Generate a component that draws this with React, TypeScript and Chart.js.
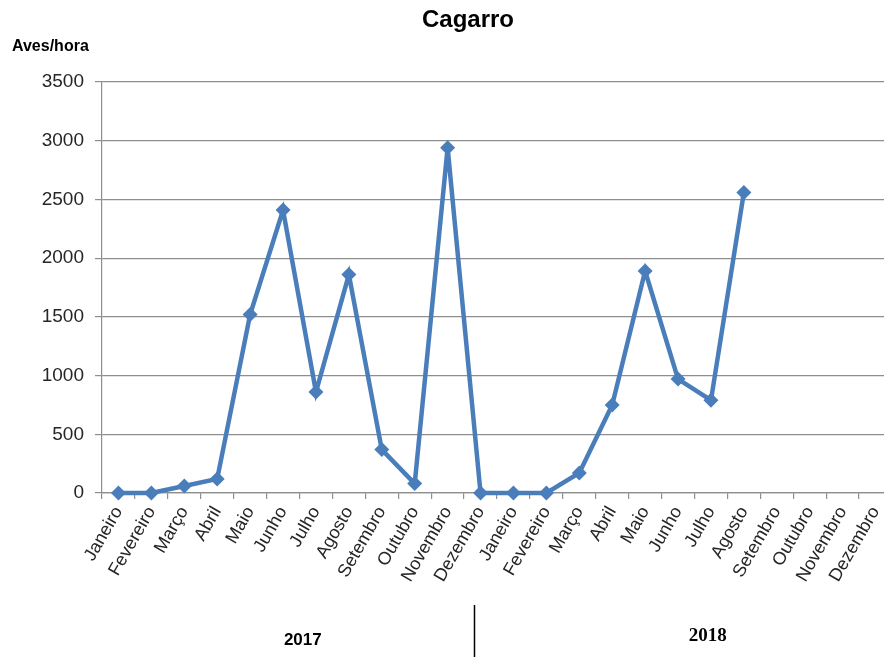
import React, { useEffect, useRef } from "react";
import { Chart, registerables } from "chart.js";

Chart.register(...registerables);

// Month names used on the category axis (repeated once per year)
const months = [
  "Janeiro", "Fevereiro", "Março", "Abril", "Maio", "Junho",
  "Julho", "Agosto", "Setembro", "Outubro", "Novembro", "Dezembro",
];
const years = ["2017", "2018"];

// Birds per hour, monthly
const values2017 = [0, 0, 60, 120, 1520, 2410, 860, 1860, 370, 80, 2940, 0];
const values2018 = [0, 0, 170, 750, 1890, 970, 790, 2560, null, null, null, null];

const yTicks = [0, 500, 1000, 1500, 2000, 2500, 3000, 3500];

const chartTitle = "Cagarro";
const unitLabel = "Aves/hora";

const FONT = "'Liberation Sans', Arial, sans-serif";
const BLUE = "#4a7ebb";
const GRID = "#8e8e8e";

// Draws the title, the unit label and the year grouping under the month labels
const annotations = {
  id: "annotations",
  afterDraw(chart: any) {
    const { ctx } = chart;
    const x = chart.scales.x;
    ctx.save();
    ctx.fillStyle = "#000";
    ctx.textBaseline = "middle";

    ctx.font = `bold 24px ${FONT}`;
    ctx.textAlign = "center";
    ctx.fillText(chartTitle, 468, 20);

    ctx.font = `bold 16px ${FONT}`;
    ctx.textAlign = "left";
    ctx.fillText(unitLabel, 12, 47);

    ctx.textAlign = "center";
    ctx.font = `bold 17px ${FONT}`;
    ctx.fillText(years[0], x.getPixelForValue(5.6), 640);
    ctx.font = `bold 19px 'Liberation Serif', 'Times New Roman', serif`;
    ctx.fillText(years[1], x.getPixelForValue(17.9), 636);

    const sx = Math.round(x.getPixelForValue(10.8)) + 0.5;
    ctx.strokeStyle = "#000";
    ctx.lineWidth = 1.5;
    ctx.beginPath();
    ctx.moveTo(sx, 605);
    ctx.lineTo(sx, chart.height);
    ctx.stroke();
    ctx.restore();
  },
};

export default function App() {
  const canvasRef = useRef<HTMLCanvasElement | null>(null);

  useEffect(() => {
    const canvas = canvasRef.current;
    if (!canvas) return;
    const chart = new Chart(canvas, {
      type: "line",
      data: {
        labels: [...months, ...months],
        datasets: [
          {
            data: [...values2017, ...values2018],
            borderColor: BLUE,
            backgroundColor: BLUE,
            borderWidth: 4.5,
            pointStyle: "rectRot",
            pointRadius: 7.5,
            pointBorderWidth: 0,
            pointBackgroundColor: BLUE,
            tension: 0,
            spanGaps: false,
            clip: false,
          },
        ],
      },
      options: {
        responsive: false,
        animation: false,
        layout: { padding: { left: 40, right: 8, top: 82, bottom: 74 } },
        plugins: {
          legend: { display: false },
          title: { display: false },
          tooltip: { enabled: false },
        },
        scales: {
          x: {
            offset: true,
            grid: {
              offset: true,
              drawOnChartArea: false,
              drawTicks: true,
              tickLength: 6,
              color: GRID,
              lineWidth: 1.2,
            },
            border: { color: GRID, width: 1.2 },
            ticks: {
              autoSkip: false,
              minRotation: 60,
              maxRotation: 60,
              padding: 4,
              color: "#262626",
              font: { family: FONT, size: 18 },
            },
            afterFit(scale: any) {
              scale.height = 90;
            },
          },
          y: {
            min: 0,
            max: 3500,
            afterBuildTicks(scale: any) {
              scale.ticks = yTicks.map((v) => ({ value: v }));
            },
            grid: {
              color: GRID,
              lineWidth: 1.2,
              drawTicks: true,
              tickLength: 7,
            },
            border: { color: GRID, width: 1.2 },
            ticks: {
              padding: 11,
              color: "#262626",
              font: { family: FONT, size: 19 },
              callback: (v: any) => String(v),
            },
            afterFit(scale: any) {
              scale.width = 62;
            },
          },
        },
      },
      plugins: [annotations],
    });
    return () => chart.destroy();
  }, []);

  return (
    <div
      style={{
        position: "fixed",
        left: 0,
        top: 0,
        width: 884,
        height: 657,
        overflow: "hidden",
        background: "#fff",
      }}
    >
      <canvas ref={canvasRef} width={900} height={657} style={{ display: "block" }} />
    </div>
  );
}
